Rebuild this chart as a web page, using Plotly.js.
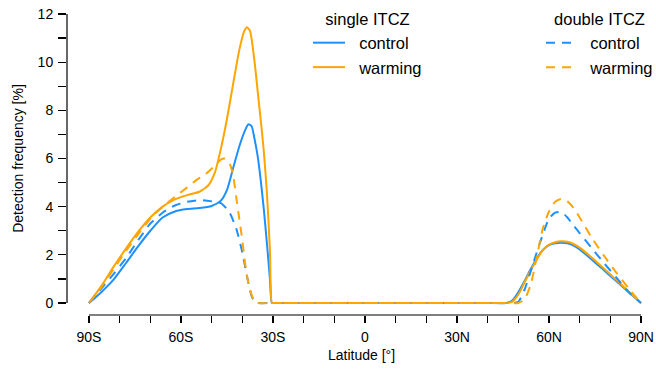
<!DOCTYPE html>
<html>
<head>
<meta charset="utf-8">
<script src="https://cdn.plot.ly/plotly-3.0.1.min.js"></script>
<style>html,body{margin:0;padding:0;background:#fff;}#chart{width:656px;height:375px;}</style>
</head>
<body>
<div id="chart"></div>
<script>
// ---- data (latitude in degrees, negative = south; values in %) ----
var singleControlLat = [-90,-86,-82,-78,-74,-70,-66,-62,-58,-54,-50,-47,-45,-43,-41,-39,-38,-37,-36,-35,-34,-33,-32,-31,-30.4,-30,-20,0,20,40,46,48,50,52,54,56,58,60,62,64,66,68,70,74,78,82,86,90];
var singleControlVal = [0,0.45,0.97,1.65,2.35,3.0,3.55,3.8,3.9,3.94,4.03,4.25,4.7,5.6,6.5,7.2,7.42,7.35,6.8,6.1,5.1,3.9,2.5,1.0,0,0,0,0,0,0,0,0.1,0.45,0.9,1.4,1.85,2.2,2.4,2.48,2.5,2.48,2.38,2.22,1.8,1.35,0.9,0.45,0];

var singleWarmingLat = [-90,-86,-82,-78,-74,-70,-66,-62,-58,-54,-51,-49,-47,-45,-43,-41,-39.5,-38.5,-37.5,-36,-35,-34,-33,-32,-31,-30.4,-30,-20,0,20,40,46,48,50,52,54,56,58,60,62,64,66,68,70,74,78,82,86,90];
var singleWarmingVal = [0,0.7,1.5,2.25,2.95,3.55,4.0,4.3,4.48,4.62,4.9,5.4,6.4,7.65,9.1,10.5,11.25,11.45,11.3,10.0,8.8,7.6,6.3,4.6,2.2,0,0,0,0,0,0,0,0.05,0.35,0.85,1.35,1.8,2.2,2.42,2.52,2.56,2.54,2.45,2.3,1.88,1.42,0.95,0.48,0];

var doubleControlLat = [-90,-86,-82,-78,-74,-70,-66,-62,-58,-54,-50,-47,-45,-44,-42,-40,-39,-38,-37,-36,-35,-30,0,30,45,48,50,52,54,56,58,60,62,64,66,68,70,74,78,82,86,90];
var doubleControlVal = [0,0.6,1.2,1.85,2.6,3.3,3.75,4.05,4.2,4.27,4.22,4.15,3.9,3.72,3.1,2.1,1.45,0.82,0.3,0.05,0,0,0,0,0,0,0.05,0.55,1.3,2.1,2.85,3.5,3.75,3.78,3.55,3.22,2.9,2.27,1.65,1.05,0.45,0];

var doubleWarmingLat = [-90,-86,-82,-78,-74,-70,-66,-62,-58,-55,-52,-49,-47,-46,-45,-44,-43,-42,-41,-40,-39,-38,-37,-36,-35,-30,0,30,45,50,52,54,56,58,60,62,64,66,68,70,74,78,82,86,90];
var doubleWarmingVal = [0,0.65,1.4,2.15,2.85,3.5,4.0,4.4,4.8,5.1,5.35,5.7,5.95,6.0,5.95,5.75,5.3,4.4,3.5,2.6,1.55,0.8,0.35,0.05,0,0,0,0,0,0,0.15,0.75,1.9,3.1,3.8,4.2,4.32,4.22,3.95,3.55,2.7,1.95,1.25,0.6,0];

var xTickVals = [-90,-80,-70,-60,-50,-40,-30,-20,-10,0,10,20,30,40,50,60,70,80,90];
var xTickText = ['90S','','','60S','','','30S','','','0','','','30N','','','60N','','','90N'];
var yTickVals = [0,1,2,3,4,5,6,7,8,9,10,11,12];
var yTickText = ['0','','2','','4','','6','','8','','10','','12'];

var BLUE = '#1E90FF', ORANGE = '#FFA500';
var FONT = 'Liberation Sans, Arial, Helvetica, sans-serif';
var DASH = '9px,7px';

function tr(lat, val, name, color, dash, legend) {
  return {x: lat, y: val, type: 'scatter', mode: 'lines', name: name,
    line: {color: color, width: 2, dash: dash, shape: 'spline', smoothing: 0.6},
    legend: legend, hoverinfo: 'skip'};
}
var sp = '\u00a0\u00a0';
var traces = [
  tr(singleControlLat, singleControlVal, sp + 'control', BLUE, 'solid', 'legend'),
  tr(singleWarmingLat, singleWarmingVal, sp + 'warming', ORANGE, 'solid', 'legend'),
  tr(doubleControlLat, doubleControlVal, sp + 'control', BLUE, DASH, 'legend2'),
  tr(doubleWarmingLat, doubleWarmingVal, sp + 'warming', ORANGE, DASH, 'legend2')
];

// plot area geometry (pixels)
var pxPerDeg = (641 - 89) / 180;
var pxPerUnit = (303 - 14) / 12;
var L = 67, R = 656, T = 2, B = 315;
var xr = [-90 - (89 - L) / pxPerDeg, 90 + (R - 641) / pxPerDeg];
var yr = [-(B - 303) / pxPerUnit, 12 + (14 - T) / pxPerUnit];
function px2x(px) { return (px - L) / (R - L); }
function py2y(py) { return (B - py) / (B - T); }

var layout = {
  width: 656, height: 375,
  margin: {l: L, r: 656 - R, t: T, b: 375 - B, pad: 0, autoexpand: false},
  paper_bgcolor: '#fff', plot_bgcolor: '#fff',
  font: {family: FONT, size: 14, color: '#000'},
  showlegend: true,
  xaxis: {range: xr, showgrid: false, zeroline: false, showline: false, automargin: false,
    tickmode: 'array', tickvals: xTickVals, ticktext: xTickText, tickangle: 0,
    ticks: 'outside', ticklen: 7, tickwidth: 1.2, tickcolor: '#000', ticklabelstandoff: 2,
    tickfont: {family: FONT, size: 14, color: '#000'},
    title: {text: 'Latitude [°]', font: {family: FONT, size: 14, color: '#000'}, standoff: 6}},
  yaxis: {range: yr, showgrid: false, zeroline: false, showline: false, automargin: false,
    tickmode: 'array', tickvals: yTickVals, ticktext: yTickText,
    ticks: 'outside', ticklen: 8, tickwidth: 1.2, tickcolor: '#000', ticklabelstandoff: 2,
    tickfont: {family: FONT, size: 14, color: '#000'},
    title: {text: 'Detection frequency [%]', font: {family: FONT, size: 14, color: '#000'}, standoff: 10}},
  shapes: [
    {type: 'line', xref: 'paper', x0: 0, x1: 0, yref: 'y', y0: 0, y1: 12, line: {color: '#000', width: 1.2}},
    {type: 'line', xref: 'x', x0: -90, x1: 90, yref: 'paper', y0: 0, y1: 0, line: {color: '#000', width: 1.2}}
  ],
  legend: {x: px2x(308), y: py2y(4), xanchor: 'left', yanchor: 'top',
    bgcolor: 'rgba(0,0,0,0)', borderwidth: 0, itemwidth: 32, tracegroupgap: 0,
    font: {family: FONT, size: 16.5, color: '#000'},
    title: {text: 'single ITCZ', side: 'top center', font: {family: FONT, size: 16.5, color: '#000'}}},
  legend2: {x: px2x(541), y: py2y(4), xanchor: 'left', yanchor: 'top',
    bgcolor: 'rgba(0,0,0,0)', borderwidth: 0, itemwidth: 30, tracegroupgap: 0,
    font: {family: FONT, size: 16.5, color: '#000'},
    title: {text: 'double ITCZ', side: 'top center', font: {family: FONT, size: 16.5, color: '#000'}}}
};

Plotly.newPlot('chart', traces, layout, {displayModeBar: false, staticPlot: true});
</script>
</body>
</html>
